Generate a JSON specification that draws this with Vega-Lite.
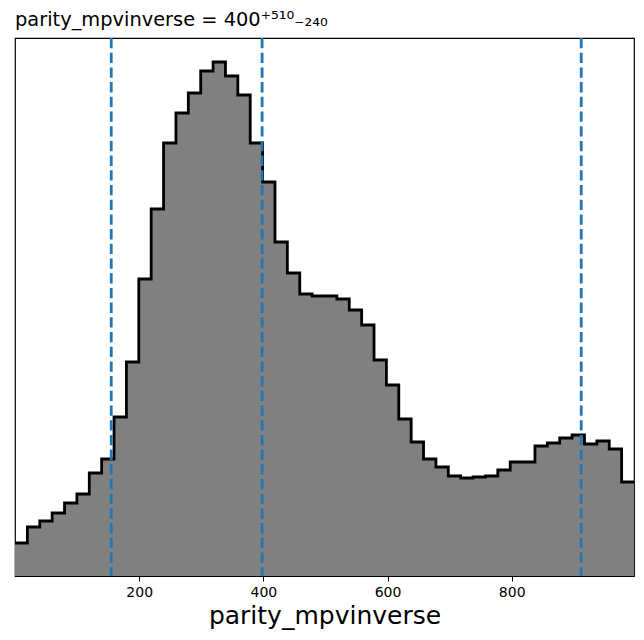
{
  "$schema": "https://vega.github.io/schema/vega-lite/v6.json",
  "width": 619,
  "height": 538,
  "autosize": {"type": "none"},
  "padding": {"left": 15, "top": 38, "right": 10, "bottom": 64},
  "background": "white",
  "title": {
    "text": "parity_mpvinverse = 400⁺⁵¹⁰₋₂₄₀",
    "anchor": "start",
    "frame": "group",
    "font": "DejaVu Sans",
    "fontSize": 19.4,
    "fontWeight": "normal",
    "color": "black",
    "offset": 6
  },
  "config": {
    "view": {"stroke": "black", "strokeWidth": 1.2},
    "axis": {"grid": false}
  },
  "datasets": {
    "bins": [
      {"x": 0, "count": 33},
      {"x": 19.94, "count": 49},
      {"x": 39.88, "count": 55},
      {"x": 59.82, "count": 63},
      {"x": 79.76, "count": 73},
      {"x": 99.7, "count": 82},
      {"x": 119.64, "count": 103},
      {"x": 139.58, "count": 117},
      {"x": 159.52, "count": 159},
      {"x": 179.46, "count": 214},
      {"x": 199.4, "count": 297},
      {"x": 219.34, "count": 367},
      {"x": 239.28, "count": 433},
      {"x": 259.22, "count": 463},
      {"x": 279.16, "count": 483},
      {"x": 299.1, "count": 505},
      {"x": 319.04, "count": 514},
      {"x": 338.98, "count": 500},
      {"x": 358.92, "count": 481},
      {"x": 378.86, "count": 433},
      {"x": 398.8, "count": 394},
      {"x": 418.74, "count": 334},
      {"x": 438.68, "count": 303},
      {"x": 458.62, "count": 282},
      {"x": 478.56, "count": 280},
      {"x": 498.5, "count": 280},
      {"x": 518.44, "count": 277},
      {"x": 538.38, "count": 266},
      {"x": 558.32, "count": 251},
      {"x": 578.26, "count": 216},
      {"x": 598.2, "count": 191},
      {"x": 618.14, "count": 157},
      {"x": 638.08, "count": 134},
      {"x": 658.02, "count": 117},
      {"x": 677.96, "count": 109},
      {"x": 697.9, "count": 100},
      {"x": 717.84, "count": 98},
      {"x": 737.78, "count": 99},
      {"x": 757.72, "count": 100},
      {"x": 777.66, "count": 106},
      {"x": 797.6, "count": 114},
      {"x": 817.54, "count": 114},
      {"x": 837.48, "count": 130},
      {"x": 857.42, "count": 133},
      {"x": 877.36, "count": 138},
      {"x": 897.3, "count": 141},
      {"x": 917.24, "count": 132},
      {"x": 937.18, "count": 135},
      {"x": 957.12, "count": 127},
      {"x": 977.06, "count": 94},
      {"x": 997, "count": 94}
    ],
    "quantiles": [
      {"q": 155},
      {"q": 398},
      {"q": 912}
    ]
  },
  "layer": [
    {
      "data": {"name": "bins"},
      "mark": {"type": "area", "interpolate": "step-after", "color": "#808080", "clip": true},
      "encoding": {
        "x": {
          "field": "x",
          "type": "quantitative",
          "scale": {"domain": [0, 997], "nice": false, "zero": false},
          "axis": {
            "values": [200, 400, 600, 800],
            "domain": false,
            "tickColor": "black",
            "tickSize": 5,
            "tickWidth": 1,
            "labelFont": "DejaVu Sans",
            "labelFontSize": 14,
            "labelColor": "black",
            "labelPadding": 4,
            "title": "parity_mpvinverse",
            "titleFont": "DejaVu Sans",
            "titleFontSize": 25,
            "titleFontWeight": "normal",
            "titleColor": "black",
            "titlePadding": 4
          }
        },
        "y": {
          "field": "count",
          "type": "quantitative",
          "scale": {"domain": [0, 538], "nice": false},
          "axis": null
        }
      }
    },
    {
      "data": {"name": "bins"},
      "mark": {"type": "line", "interpolate": "step-after", "color": "black", "strokeWidth": 2.8, "clip": true},
      "encoding": {
        "x": {"field": "x", "type": "quantitative"},
        "y": {"field": "count", "type": "quantitative"}
      }
    },
    {
      "data": {"name": "quantiles"},
      "mark": {"type": "rule", "color": "#1f77b4", "strokeWidth": 2.8, "strokeDash": [10.3, 4.4]},
      "encoding": {
        "x": {"field": "q", "type": "quantitative"}
      }
    }
  ]
}
